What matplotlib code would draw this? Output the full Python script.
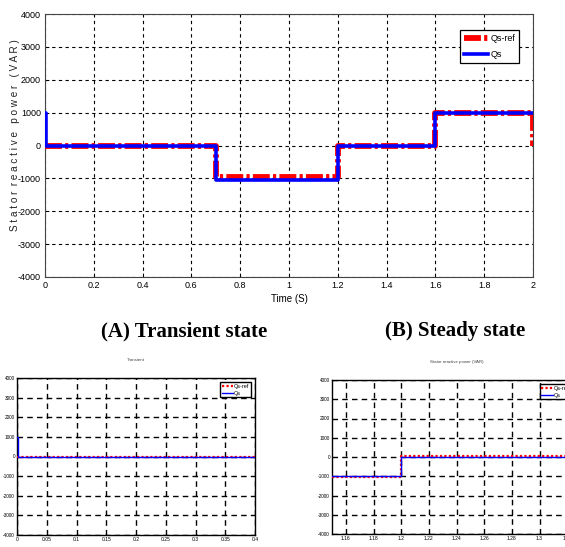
import matplotlib
matplotlib.use("Agg")
import matplotlib.pyplot as plt

# ---------------- data ----------------
# Top chart (transient + steady, 0..2 s)
t_ref_top = [0.0, 0.7, 1.2, 1.6, 2.0]
qs_ref_top = [-30, -970, -10, 1000, 0]
t_qs_top = [0.0, 0.003, 0.7, 1.2, 1.6, 2.0]
qs_top = [1000, 0, -1040, -20, 1000, 1000]

# Bottom-left (0..0.4 s)
t_ref_bl = [0.0, 0.4]
qs_ref_bl = [-20, -20]
t_qs_bl = [0.0, 0.002, 0.4]
qs_bl = [1000, 0, 0]

# Bottom-right (1.15..1.33 s)
t_ref_br = [1.15, 1.2, 1.33]
qs_ref_br = [-1030, 40, 40]
t_qs_br = [1.15, 1.2, 1.33]
qs_br = [-1000, 0, 0]

top_xticks = [0, 0.2, 0.4, 0.6, 0.8, 1, 1.2, 1.4, 1.6, 1.8, 2]
top_xlabels = ["0", "0.2", "0.4", "0.6", "0.8", "1", "1.2", "1.4", "1.6", "1.8", "2"]
yticks = [-4000, -3000, -2000, -1000, 0, 1000, 2000, 3000, 4000]
bl_xticks = [0, 0.05, 0.1, 0.15, 0.2, 0.25, 0.3, 0.35, 0.4]
bl_xlabels = ["0", "0.05", "0.1", "0.15", "0.2", "0.25", "0.3", "0.35", "0.4"]
br_xticks = [1.16, 1.18, 1.2, 1.22, 1.24, 1.26, 1.28, 1.3, 1.32]
br_xlabels = ["1.16", "1.18", "1.2", "1.22", "1.24", "1.26", "1.28", "1.3", "1.32"]

sans = "Liberation Sans"
serif = "Liberation Serif"

W, H = 565, 547
fig = plt.figure(figsize=(W / 100, H / 100), dpi=100)

def px_axes(l, t, r, b):
    return fig.add_axes([l / W, 1 - b / H, (r - l) / W, (b - t) / H])

# ---------------- top chart ----------------
ax = px_axes(45, 14, 533, 277)
ax.step(t_ref_top, qs_ref_top, where="post", color="red", lw=4.2,
        linestyle=(0, (2.9, 0.55, 0.55, 0.55)), label="Qs-ref", zorder=3)
ax.step(t_qs_top, qs_top, where="post", color="blue", lw=2.6,
        label="Qs", zorder=4)
ax.set_xlim(0, 2)
ax.set_ylim(-4000, 4000)
ax.set_xticks(top_xticks)
ax.set_xticklabels(top_xlabels, fontfamily=sans, fontsize=6.5)
ax.set_yticks(yticks)
ax.set_yticklabels([str(v) for v in yticks], fontfamily=sans, fontsize=6.5)
ax.tick_params(direction="in", length=3, pad=3, width=0.6)
ax.grid(True, color="black", linestyle=(0, (3, 3)), linewidth=0.8)
ax.set_axisbelow(True)
for s in ax.spines.values():
    s.set_color("#444444")
ax.set_xlabel("Time (S)", fontfamily=sans, fontsize=7, labelpad=3)
fig.text(15 / W, 1 - 135 / H,
         "S t a t o r  r e a c t i v e   p o w e r   ( V A R )",
         fontfamily=sans, fontsize=7.2, rotation=90, ha="center", va="center",
         color="#222222")
leg = ax.legend(loc="upper right", bbox_to_anchor=(0.981, 0.955),
                prop={"family": sans, "size": 6.5}, fancybox=False,
                framealpha=1, edgecolor="black", handlelength=2.6,
                borderpad=0.45, labelspacing=0.75, handletextpad=0.3)
leg.get_frame().set_linewidth(0.9)

# captions
fig.text(184 / W, 1 - 331 / H, "(A) Transient state", fontfamily=serif,
         fontweight="bold", fontsize=15, ha="center", va="center")
fig.text(455 / W, 1 - 331 / H, "(B) Steady state", fontfamily=serif,
         fontweight="bold", fontsize=15, ha="center", va="center")

# ---------------- bottom charts ----------------
def small_axes(a, t_ref, ref, t_qs, qs, xlim, xticks, xlabels, title, legpos):
    a.step(t_ref, ref, where="post", color="red", lw=1.6,
           linestyle=(0, (1, 1)), label="Qs-ref", zorder=3)
    a.step(t_qs, qs, where="post", color="blue", lw=1.0, label="Qs", zorder=4)
    a.set_xlim(*xlim)
    a.set_ylim(-4000, 4000)
    a.set_xticks(xticks)
    a.set_xticklabels(xlabels, fontfamily=sans, fontsize=3.6)
    a.set_yticks(yticks)
    a.set_yticklabels([str(v) for v in yticks], fontfamily=sans, fontsize=3.4)
    a.tick_params(direction="in", length=2, pad=1.5, width=0.5)
    a.grid(True, color="black", linestyle=(0, (4, 3)), linewidth=1.0)
    a.set_axisbelow(True)
    for s in a.spines.values():
        s.set_linewidth(1.0)
    a.set_title(title, fontfamily=sans, fontsize=3.2, pad=12, color="#444444")
    lg = a.legend(loc="upper right", bbox_to_anchor=legpos,
                  prop={"family": sans, "size": 4}, fancybox=False,
                  framealpha=1, edgecolor="black", handlelength=2.0,
                  borderpad=0.3, labelspacing=0.3, handletextpad=0.2)
    lg.get_frame().set_linewidth(1.0)

axl = px_axes(17, 378, 255, 535)
small_axes(axl, t_ref_bl, qs_ref_bl, t_qs_bl, qs_bl, (0, 0.4),
           bl_xticks, bl_xlabels, "Transient", (0.995, 0.99))

axr = px_axes(332, 380, 581, 534)
small_axes(axr, t_ref_br, qs_ref_br, t_qs_br, qs_br, (1.15, 1.33),
           br_xticks, br_xlabels, "Stator reactive power (VAR)", (0.97, 0.99))

fig.savefig("out.png", dpi=100)
